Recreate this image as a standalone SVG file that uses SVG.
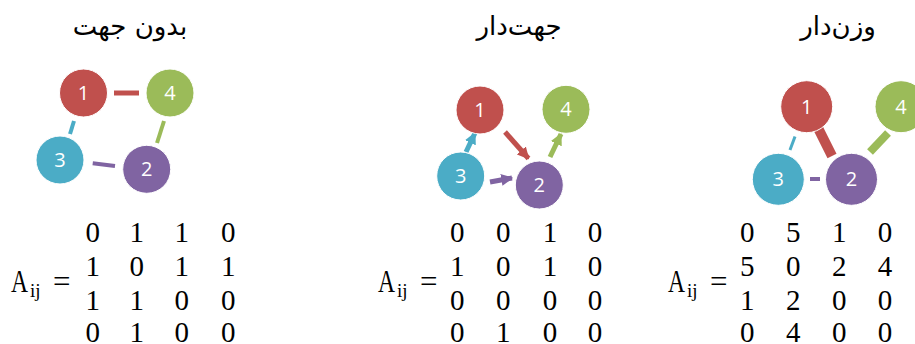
<svg xmlns="http://www.w3.org/2000/svg" width="915" height="344" viewBox="0 0 915 344">
<style>
.title{font-family:"DejaVu Sans",sans-serif;font-size:26px;fill:#000;text-anchor:middle}
.num{font-family:"Open Sans","Liberation Sans",sans-serif;font-size:20px;fill:#fff;text-anchor:middle}
.n1{fill:#C0504D;stroke:#fff;stroke-width:1}
.n2{fill:#8064A2;stroke:#fff;stroke-width:1}
.n3{fill:#4BACC6;stroke:#fff;stroke-width:1}
.n4{fill:#9BBB59;stroke:#fff;stroke-width:1}
.m{font-family:"Liberation Serif","Times New Roman",serif;font-size:29px;fill:#000;text-anchor:middle}
.A{font-family:"Liberation Serif","Times New Roman",serif;font-size:31px;fill:#000}
.sub{font-family:"Liberation Serif","Times New Roman",serif;font-size:19px;fill:#000}
.e{fill:none;stroke-linecap:butt}
</style>
<defs>
<marker id="ahR" viewBox="0 0 10 10" refX="9" refY="5" markerWidth="2.4" markerHeight="2.6" orient="auto" markerUnits="strokeWidth"><path d="M0,0 L10,5 L0,10 z" fill="#C0504D"/></marker>
<marker id="ahG" viewBox="0 0 10 10" refX="9" refY="5" markerWidth="2.4" markerHeight="2.6" orient="auto" markerUnits="strokeWidth"><path d="M0,0 L10,5 L0,10 z" fill="#9BBB59"/></marker>
<marker id="ahC" viewBox="0 0 10 10" refX="9" refY="5" markerWidth="2.4" markerHeight="2.6" orient="auto" markerUnits="strokeWidth"><path d="M0,0 L10,5 L0,10 z" fill="#4BACC6"/></marker>
<marker id="ahP" viewBox="0 0 10 10" refX="9" refY="5" markerWidth="2.4" markerHeight="2.6" orient="auto" markerUnits="strokeWidth"><path d="M0,0 L10,5 L0,10 z" fill="#8064A2"/></marker>
</defs>

<!-- Titles -->
<text class="title" x="130" y="35">بدون جهت</text>
<text class="title" x="519" y="35">جهت‌دار</text>
<text class="title" x="838" y="35">وزن‌دار</text>

<!-- Connectors -->
<g id="connectors">
  <!-- Panel 1: undirected -->
  <line class="e" x1="114" y1="93" x2="139" y2="93" stroke="#C0504D" stroke-width="5"/>
  <line class="e" x1="74" y1="121" x2="70" y2="134" stroke="#4BACC6" stroke-width="4"/>
  <line class="e" x1="164" y1="121" x2="157" y2="143" stroke="#9BBB59" stroke-width="4"/>
  <line class="e" x1="92.7" y1="163.3" x2="115" y2="166" stroke="#8064A2" stroke-width="4"/>
  <!-- Panel 2: directed -->
  <line class="e" x1="466" y1="152" x2="475" y2="133" stroke="#4BACC6" stroke-width="5" marker-end="url(#ahC)"/>
  <line class="e" x1="505" y1="132" x2="528.5" y2="158.5" stroke="#C0504D" stroke-width="5" marker-end="url(#ahR)"/>
  <line class="e" x1="490" y1="182" x2="512" y2="178" stroke="#8064A2" stroke-width="5" marker-end="url(#ahP)"/>
  <line class="e" x1="550" y1="157" x2="561" y2="134" stroke="#9BBB59" stroke-width="5" marker-end="url(#ahG)"/>
  <!-- Panel 3: weighted -->
  <line class="e" x1="816" y1="124" x2="832" y2="156" stroke="#C0504D" stroke-width="10"/>
  <line class="e" x1="795" y1="136.5" x2="790" y2="150" stroke="#4BACC6" stroke-width="3"/>
  <line class="e" x1="810" y1="179" x2="820" y2="179" stroke="#8064A2" stroke-width="4"/>
  <line class="e" x1="870" y1="152" x2="888" y2="133" stroke="#9BBB59" stroke-width="8"/>
</g>

<!-- Panel 1 nodes -->
<g id="u1"><circle class="n1" cx="83.5" cy="93" r="24"/><text class="num" x="83.5" y="100">1</text></g>
<g id="u4"><circle class="n4" cx="170" cy="93" r="24"/><text class="num" x="170" y="100">4</text></g>
<g id="u3"><circle class="n3" cx="60" cy="160" r="24"/><text class="num" x="60" y="167">3</text></g>
<g id="u2"><circle class="n2" cx="146.7" cy="169.3" r="24"/><text class="num" x="146.7" y="176.3">2</text></g>

<!-- Panel 2 nodes -->
<g id="d1"><circle class="n1" cx="480" cy="110" r="24"/><text class="num" x="480" y="117">1</text></g>
<g id="d4"><circle class="n4" cx="566" cy="109.3" r="24"/><text class="num" x="566" y="116.3">4</text></g>
<g id="d3"><circle class="n3" cx="460.7" cy="176" r="24"/><text class="num" x="460.7" y="183">3</text></g>
<g id="d2"><circle class="n2" cx="539.3" cy="185" r="24"/><text class="num" x="539.3" y="192">2</text></g>

<!-- Panel 3 nodes -->
<g id="w1"><circle class="n1" cx="806.7" cy="106.7" r="26"/><text class="num" x="806.7" y="113.7">1</text></g>
<g id="w4"><circle class="n4" cx="901" cy="106.7" r="26"/><text class="num" x="901" y="113.7">4</text></g>
<g id="w3"><circle class="n3" cx="778.3" cy="179.3" r="26"/><text class="num" x="778.3" y="186.3">3</text></g>
<g id="w2"><circle class="n2" cx="851.5" cy="179.3" r="26"/><text class="num" x="851.5" y="186.3">2</text></g>

<!-- Matrix 1 -->
<g id="mat1">
  <text class="A" x="11" y="292" textLength="17" lengthAdjust="spacingAndGlyphs">A</text><text class="sub" x="30" y="297">ij</text><text class="A" x="53" y="292">=</text>
  <text class="m" x="92.7" y="242">0</text><text class="m" x="136.7" y="242">1</text><text class="m" x="181.7" y="242">1</text><text class="m" x="228.3" y="242">0</text>
  <text class="m" x="92.7" y="276">1</text><text class="m" x="136.7" y="276">0</text><text class="m" x="181.7" y="276">1</text><text class="m" x="228.3" y="276">1</text>
  <text class="m" x="92.7" y="310">1</text><text class="m" x="136.7" y="310">1</text><text class="m" x="181.7" y="310">0</text><text class="m" x="228.3" y="310">0</text>
  <text class="m" x="92.7" y="342">0</text><text class="m" x="136.7" y="342">1</text><text class="m" x="181.7" y="342">0</text><text class="m" x="228.3" y="342">0</text>
</g>
<!-- Matrix 2 -->
<g id="mat2">
  <text class="A" x="378" y="292" textLength="17" lengthAdjust="spacingAndGlyphs">A</text><text class="sub" x="397" y="297">ij</text><text class="A" x="420" y="292">=</text>
  <text class="m" x="457.3" y="242">0</text><text class="m" x="503.3" y="242">0</text><text class="m" x="550" y="242">1</text><text class="m" x="595" y="242">0</text>
  <text class="m" x="457.3" y="276">1</text><text class="m" x="503.3" y="276">0</text><text class="m" x="550" y="276">1</text><text class="m" x="595" y="276">0</text>
  <text class="m" x="457.3" y="310">0</text><text class="m" x="503.3" y="310">0</text><text class="m" x="550" y="310">0</text><text class="m" x="595" y="310">0</text>
  <text class="m" x="457.3" y="342">0</text><text class="m" x="503.3" y="342">1</text><text class="m" x="550" y="342">0</text><text class="m" x="595" y="342">0</text>
</g>
<!-- Matrix 3 -->
<g id="mat3">
  <text class="A" x="668" y="292" textLength="17" lengthAdjust="spacingAndGlyphs">A</text><text class="sub" x="687" y="297">ij</text><text class="A" x="710" y="292">=</text>
  <text class="m" x="747.3" y="242">0</text><text class="m" x="793.3" y="242">5</text><text class="m" x="839.3" y="242">1</text><text class="m" x="885" y="242">0</text>
  <text class="m" x="747.3" y="276">5</text><text class="m" x="793.3" y="276">0</text><text class="m" x="839.3" y="276">2</text><text class="m" x="885" y="276">4</text>
  <text class="m" x="747.3" y="310">1</text><text class="m" x="793.3" y="310">2</text><text class="m" x="839.3" y="310">0</text><text class="m" x="885" y="310">0</text>
  <text class="m" x="747.3" y="342">0</text><text class="m" x="793.3" y="342">4</text><text class="m" x="839.3" y="342">0</text><text class="m" x="885" y="342">0</text>
</g>
</svg>
